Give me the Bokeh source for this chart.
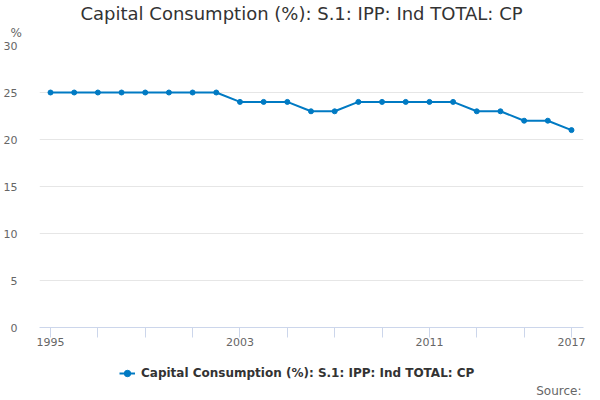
from bokeh.plotting import figure
from bokeh.layouts import column
from bokeh.models import FixedTicker, Legend, LegendItem, ColumnDataSource, Title, Label
from bokeh.embed import file_html
from bokeh.resources import INLINE

years = list(range(1995, 2018))
values = [25, 25, 25, 25, 25, 25, 25, 25,
          24, 24, 24, 23, 23, 24, 24, 24, 24, 24,
          23, 23, 22, 22, 21]
series_name = "Capital Consumption (%): S.1: IPP: Ind TOTAL: CP"
title_text = "Capital Consumption (%): S.1: IPP: Ind TOTAL: CP"
x_ticks = list(range(1995, 2018, 2))
x_labels = {1995: "1995", 2003: "2003", 2011: "2011", 2017: "2017"}
y_ticks = [0, 5, 10, 15, 20, 25, 30]

FONT = "DejaVu Sans"
COLOR = "#007ac3"

src = ColumnDataSource(dict(x=years, y=values))

p = figure(width=600, height=357, output_backend="svg", toolbar_location=None,
           x_range=(1994.535, 2017.507), y_range=(0, 30),
           min_border_left=39, min_border_right=17, min_border_top=45,
           min_border_bottom=30, background_fill_color="white",
           border_fill_color="white", outline_line_color=None)
p.title = None

ln = p.line("x", "y", source=src, line_color=COLOR, line_width=2)
sc = p.scatter("x", "y", source=src, size=5, fill_color=COLOR, line_color=COLOR)

xa = p.xaxis[0]
xa.ticker = FixedTicker(ticks=x_ticks)
xa.major_label_overrides = {t: x_labels.get(t, "") for t in x_ticks}
xa.axis_line_color = "#ccd6eb"
xa.major_tick_line_color = "#ccd6eb"
xa.major_tick_out = 10
xa.major_tick_in = 0
xa.minor_tick_line_color = None
xa.major_label_text_color = "#666666"
xa.major_label_text_font = FONT
xa.major_label_text_font_size = "11px"
xa.major_label_standoff = 0

ya = p.yaxis[0]
ya.ticker = FixedTicker(ticks=y_ticks)
ya.axis_line_color = None
ya.major_tick_line_color = None
ya.minor_tick_line_color = None
ya.major_label_text_color = "#666666"
ya.major_label_text_font = FONT
ya.major_label_text_font_size = "11px"
ya.major_label_standoff = 16

p.xgrid.grid_line_color = None
p.ygrid.grid_line_color = "#e6e6e6"
p.ygrid.ticker = FixedTicker(ticks=y_ticks)

# Above: "%" unit label (closest to frame), then main title
pct = Title(text="%", align="left", offset=-29, text_font=FONT,
            text_font_size="12px", text_color="#666666", text_font_style="normal",
            standoff=11)
p.add_layout(pct, "above")
main = Title(text=title_text, align="left", offset=41, text_font=FONT,
             text_font_size="18px", text_color="#333333", text_font_style="normal",
             standoff=-10, text_line_height=0.6)
p.add_layout(main, "above")

# Legend strip below the chart (frame is aligned with the chart's frame)
p2 = figure(width=600, height=43, output_backend="svg", toolbar_location=None,
            x_range=(0, 1), y_range=(0, 1), x_axis_type=None, y_axis_type=None,
            min_border=0, min_border_left=0, min_border_right=0,
            min_border_top=0, min_border_bottom=0,
            background_fill_color="white", border_fill_color="white",
            outline_line_color=None)
p2.title = None
p2.grid.visible = False
# legend proxies: same data, outside this strip's visible ranges
lk = p2.line(x=years, y=values, line_color=COLOR, line_width=2)
sk = p2.scatter(x=years, y=values, size=5, fill_color=COLOR, line_color=COLOR)

legend = Legend(items=[LegendItem(label=series_name, renderers=[lk, sk])],
                orientation="horizontal", location=(80, 17),
                label_text_font=FONT, label_text_font_size="12px",
                label_text_font_style="bold", label_text_color="#333333",
                border_line_color=None, background_fill_alpha=0,
                glyph_width=16, label_standoff=6, padding=0, margin=0)
p2.add_layout(legend)

srcl = Label(x=542, y=10, x_units="screen", y_units="screen", text="Source:",
             text_font=FONT, text_font_size="12px", text_color="#666666",
             text_baseline="middle", text_align="right")
p2.add_layout(srcl)

layout = column(p, p2, spacing=0)
open("out.html", "w").write(file_html(layout, INLINE))
